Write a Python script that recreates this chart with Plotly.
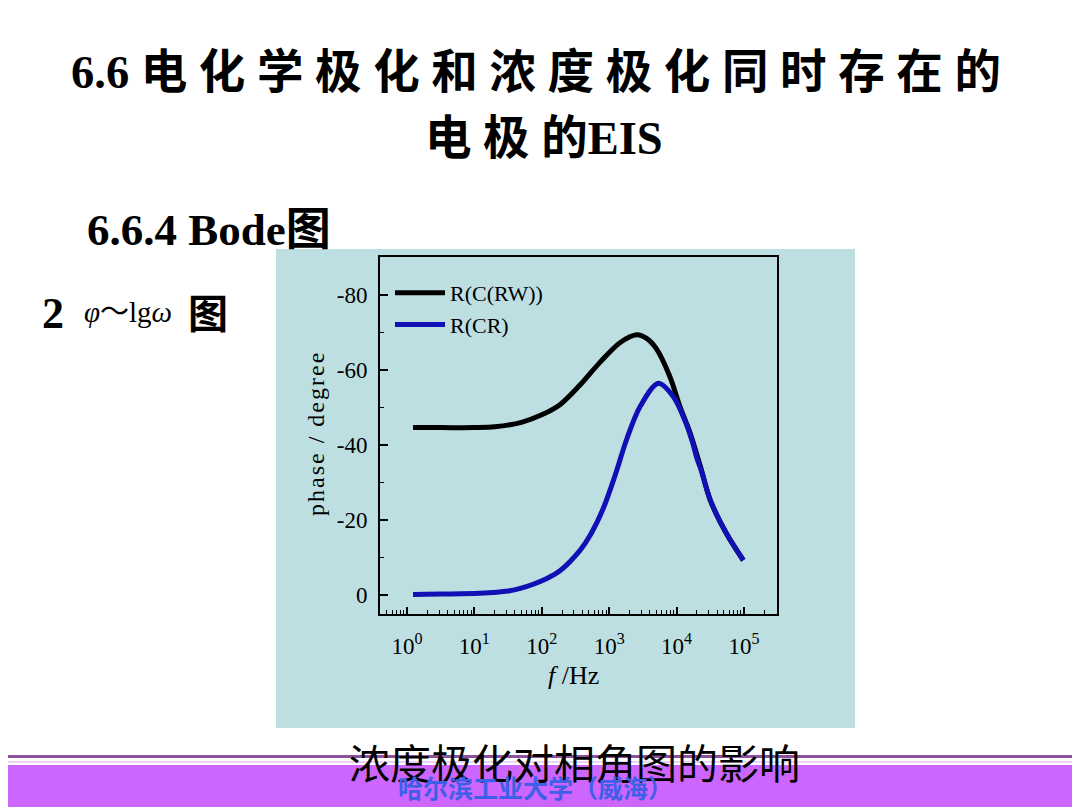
import plotly.graph_objects as go

# ---- data ----
freq_black = [1.23, 3.2, 10, 20, 50, 100, 186, 372, 724, 1445, 2570, 3550, 5010, 7940, 11220, 15850, 22390, 31620, 54950, 97700]
phase_black = [-44.6, -44.6, -44.6, -44.8, -46.0, -48.0, -50.7, -56.0, -61.9, -67.2, -69.3, -68.4, -65.6, -58.2, -50.2, -43.2, -34.5, -25.3, -16.4, -9.3]

freq_blue = [1.23, 3.2, 12, 32, 48, 117, 186, 372, 525, 813, 1230, 1820, 2880, 5370, 8910, 13180, 17380, 19950, 23440, 31620, 54950, 97700]
phase_blue = [-0.2, -0.3, -0.5, -1.1, -1.8, -4.4, -6.5, -12.0, -16.0, -23.0, -32.0, -41.5, -50.2, -56.4, -52.9, -46.7, -40.5, -36.5, -33.0, -25.3, -16.4, -9.3]

series_names = ["R(C(RW))", "R(CR)"]
series_colors = ["#000000", "#1010B4"]

x_tickvals = [1, 10, 100, 1000, 10000, 100000]
x_ticktext = ["10<sup>0</sup>", "10<sup>1</sup>", "10<sup>2</sup>", "10<sup>3</sup>", "10<sup>4</sup>", "10<sup>5</sup>"]
x_minor = [0.4, 0.5, 0.6, 0.7, 0.8, 0.9] + [m * 10 ** k for k in range(0, 5) for m in range(2, 10)] + [200000, 300000]
y_tickvals = [-80, -60, -40, -20, 0]
y_ticktext = ["-80", "-60", "-40", "-20", "0"]
y_minor = [-90, -70, -50, -30, -10]

# page has an 8px body margin: figure is drawn at (8, 8)
OFF = 8
W, H = 1072, 802
def px(x):
    return (x - OFF) / W
def py(y):
    return 1 - (y - OFF) / H

SERIF = "Liberation Serif, Times New Roman, serif"
MIX = "Liberation Serif, Noto Sans CJK SC, serif"
CJK = "Noto Sans CJK SC, sans-serif"

fig = go.Figure()
fig.add_trace(go.Scatter(x=freq_black, y=phase_black, mode="lines", name=series_names[0],
                         line=dict(color=series_colors[0], width=5, shape="spline", smoothing=0.9)))
fig.add_trace(go.Scatter(x=freq_blue, y=phase_blue, mode="lines", name=series_names[1],
                         line=dict(color=series_colors[1], width=5, shape="spline", smoothing=0.9)))

axis_font = dict(family=SERIF, size=23, color="black")
fig.update_layout(
    width=W, height=H,
    margin=dict(l=0, r=0, t=0, b=0),
    paper_bgcolor="white",
    plot_bgcolor="rgba(0,0,0,0)",
    showlegend=True,
    legend=dict(x=px(390), y=py(272), xanchor="left", yanchor="top",
                bgcolor="rgba(0,0,0,0)", font=dict(family=SERIF, size=22, color="black"),
                tracegroupgap=0, itemwidth=50),
    xaxis=dict(type="log", range=[-0.40, 5.49], domain=[px(380), px(777)],
               tickvals=x_tickvals, ticktext=x_ticktext, ticks="inside", ticklen=7,
               tickwidth=1.5, tickcolor="black", showline=True, linecolor="black",
               linewidth=2, mirror=True, showgrid=False, zeroline=False,
               tickfont=axis_font, ticklabelstandoff=10,
               minor=dict(tickvals=x_minor, ticks="inside", ticklen=4, tickcolor="black",
                          tickwidth=1, showgrid=False)),
    yaxis=dict(range=[5, -90], domain=[py(614), py(257)],
               tickvals=y_tickvals, ticktext=y_ticktext, ticks="inside", ticklen=8,
               tickwidth=1.5, tickcolor="black", showline=True, linecolor="black",
               linewidth=2, mirror=True, showgrid=False, zeroline=False,
               tickfont=axis_font, ticklabelstandoff=6,
               minor=dict(tickvals=y_minor, ticks="inside", ticklen=4, tickcolor="black",
                          tickwidth=1, showgrid=False)),
)

# slide decorations
shapes = [
    dict(type="rect", xref="paper", yref="paper", x0=px(276), x1=px(855), y0=py(728), y1=py(249),
         fillcolor="#BEDFE1", line=dict(width=0), layer="below"),
    dict(type="rect", xref="paper", yref="paper", x0=0, x1=1, y0=py(758), y1=py(755),
         fillcolor="#8B519B", line=dict(width=0), layer="below"),
    dict(type="rect", xref="paper", yref="paper", x0=0, x1=1, y0=py(763), y1=py(761),
         fillcolor="#EBD3F2", line=dict(width=0), layer="below"),
    dict(type="rect", xref="paper", yref="paper", x0=0, x1=1, y0=py(807), y1=py(765),
         fillcolor="#CC66FF", line=dict(width=0), layer="below"),
]
fig.update_layout(shapes=shapes)

def ann(text, x, y, size, family, color="black", xanchor="center", yanchor="middle", angle=0, weight="normal"):
    fig.add_annotation(text=text, x=px(x), y=py(y), xref="paper", yref="paper",
                       xanchor=xanchor, yanchor=yanchor, showarrow=False, textangle=angle,
                       font=dict(size=size, family=family, color=color, weight=weight))

ann("6.6 电 化 学 极 化 和 浓 度 极 化 同 时 存 在 的", 536, 72, 46.5, MIX, weight="bold")
ann("电 极 的EIS", 544, 138, 46.5, MIX, weight="bold")
ann("6.6.4 Bode图", 85, 230, 45, MIX, xanchor="left", weight="bold")
ann("2", 40, 313, 44, SERIF, xanchor="left", weight="bold")
ann("<i>φ</i>～lg<i>ω</i>", 82, 312, 29, MIX, xanchor="left")
ann("图", 208, 311, 40, CJK, weight="bold")

# axis titles
hs = "\u200a"
ann(hs.join("phase / degree"), 316, 435, 24, SERIF, angle=-90)
ann("<i>f</i> /Hz", 573, 675, 26, SERIF)

# caption and footer
ann("浓度极化对相角图的影响", 574, 761, 41, CJK)
ann("哈尔滨工业大学（威海）", 535, 787, 25, CJK, color="#3F5FE6", weight="bold")

fig.write_html("out.html")
